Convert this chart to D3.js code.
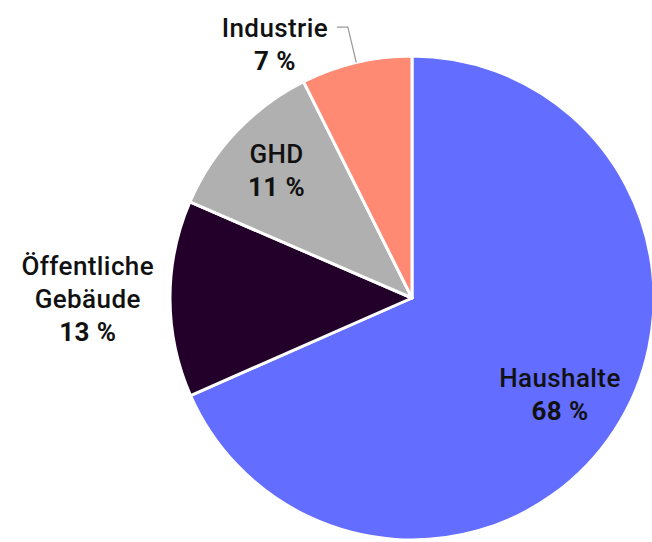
<!DOCTYPE html>
<html>
<head>
<meta charset="utf-8">
<script src="https://cdn.jsdelivr.net/npm/d3@7"></script>
<style>
  body { margin: 0; background: #fff; }
  svg text { font-family: Roboto, "Noto Sans", sans-serif; fill: #111; }
</style>
</head>
<body>
<svg id="chart"></svg>
<script>
const categories = ["Haushalte", "Öffentliche\nGebäude", "GHD", "Industrie"];
const shares = [68.4, 13.1, 11.1, 7.4];
const colors = ["#636dff", "#22002a", "#b0b0b0", "#ff8a74"];

const width = 652, height = 542;
const cx = 412, cy = 298, radius = 242;

// label distance from centre, as a fraction of the radius
const labelRadius = [0.73, 1.34, 0.77, null];

const data = categories.map((c, i) => ({ name: c, value: shares[i], color: colors[i], lr: labelRadius[i] }));

const svg = d3.select("#chart")
    .attr("width", width)
    .attr("height", height);

const g = svg.append("g").attr("transform", `translate(${cx},${cy})`);

const pie = d3.pie().sort(null).value(d => d.value);
const arc = d3.arc().innerRadius(0).outerRadius(radius);

const arcs = pie(data);

g.selectAll("path")
    .data(arcs)
    .join("path")
    .attr("d", arc)
    .attr("fill", d => d.data.color)
    .attr("stroke", "#fff")
    .attr("stroke-width", 3)
    .attr("stroke-linejoin", "round");

const lineH = 33;

function drawLabel(x, y, d) {
    const lines = d.data.name.split("\n").concat([Math.round(d.data.value) + " %"]);
    const t = g.append("text")
        .attr("text-anchor", "middle")
        .attr("font-size", 26)
        .attr("letter-spacing", 0.4);
    const y0 = y - (lines.length - 1) * lineH / 2;
    lines.forEach((l, i) => {
        t.append("tspan")
            .attr("x", x)
            .attr("y", y0 + i * lineH)
            .attr("dy", "0.35em")
            .attr("font-weight", i === lines.length - 1 ? 700 : 500)
            .text(l);
    });
}

arcs.forEach(d => {
    const mid = (d.startAngle + d.endAngle) / 2;
    if (d.data.lr != null) {
        const r = radius * d.data.lr;
        drawLabel(Math.sin(mid) * r, -Math.cos(mid) * r, d);
    } else {
        // outside label with a leader line
        const p0 = [Math.sin(mid) * radius, -Math.cos(mid) * radius];
        const p1 = [Math.sin(mid) * radius * 1.15, -Math.cos(mid) * radius * 1.15];
        const p2 = [p1[0] - 11, p1[1]];
        g.append("polyline")
            .attr("points", [p0, p1, p2].map(p => p.join(",")).join(" "))
            .attr("fill", "none")
            .attr("stroke", "#999")
            .attr("stroke-width", 1.2);
        drawLabel(p2[0] - 62, p2[1] + 17, d);
    }
});
</script>
</body>
</html>
